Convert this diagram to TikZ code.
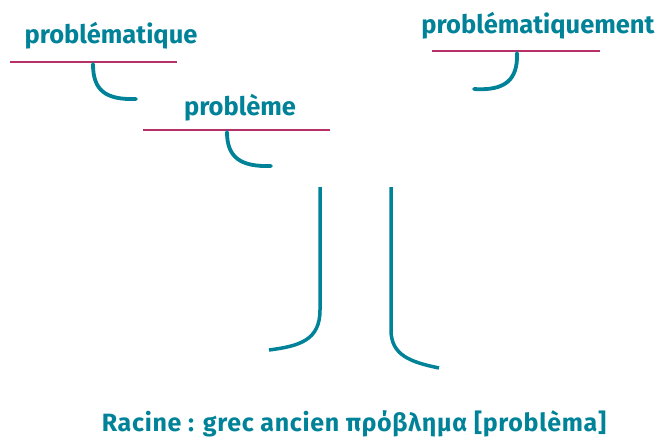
\documentclass[tikz,border=0pt]{standalone}
\usepackage{fontspec}
\setmainfont{Fira Sans}
\newfontfamily\widefira[LetterSpace=2.8]{Fira Sans}
\definecolor{teal1}{RGB}{0,130,152}
\definecolor{mag}{RGB}{184,48,106}
\begin{document}
\begin{tikzpicture}[x=1pt,y=-1pt,
  word/.style={text=teal1,font=\bfseries\fontsize{25.5}{30}\selectfont,inner sep=0pt,anchor=base},
  bar/.style={draw=mag,line width=2.4pt},
  stem/.style={draw=teal1,line width=3.8pt,line cap=round},
  trunk/.style={draw=teal1,line width=3.5pt}]
\useasboundingbox (0,0) rectangle (659,439);
% words
\node[word] (w1) at (111,43) {problématique};
\node[word] (w2) at (240,115) {problème};
\node[word] (w3) at (538,33) {problématiquement};
\node[word,font=\widefira\bfseries\fontsize{25}{30}\selectfont] (root) at (354,431) {Racine : grec ancien πρόβλημα [problèma]};
% bars
\coordinate (b1a) at (10,62); \coordinate (b1b) at (177,62);
\coordinate (b2a) at (143,130); \coordinate (b2b) at (330,130);
\coordinate (b3a) at (432,51); \coordinate (b3b) at (600,51);
\draw[bar] (b1a) -- (b1b);
\draw[bar] (b2a) -- (b2b);
\draw[bar] (b3a) -- (b3b);
% hooks
\coordinate (h1s) at (93,64); \coordinate (h1e) at (136,99);
\coordinate (h2s) at (227,132); \coordinate (h2e) at (271,166);
\coordinate (h3s) at (517,53); \coordinate (h3e) at (474,89);
\draw[stem] (h1s) .. controls (93,90) and (105,100) .. (h1e);
\draw[stem] (h2s) .. controls (227,157) and (240,167) .. (h2e);
\draw[stem] (h3s) .. controls (518,80) and (505,91) .. (h3e);
% trunk
\coordinate (t1s) at (320,187); \coordinate (t1e) at (269,350);
\coordinate (t2s) at (391,187); \coordinate (t2e) at (439,368);
\draw[trunk] (t1s) -- (320,310) .. controls (320,340) and (300,346) .. (t1e);
\draw[trunk] (t2s) -- (391,330) .. controls (391,355) and (410,362) .. (t2e);
\end{tikzpicture}
\end{document}
